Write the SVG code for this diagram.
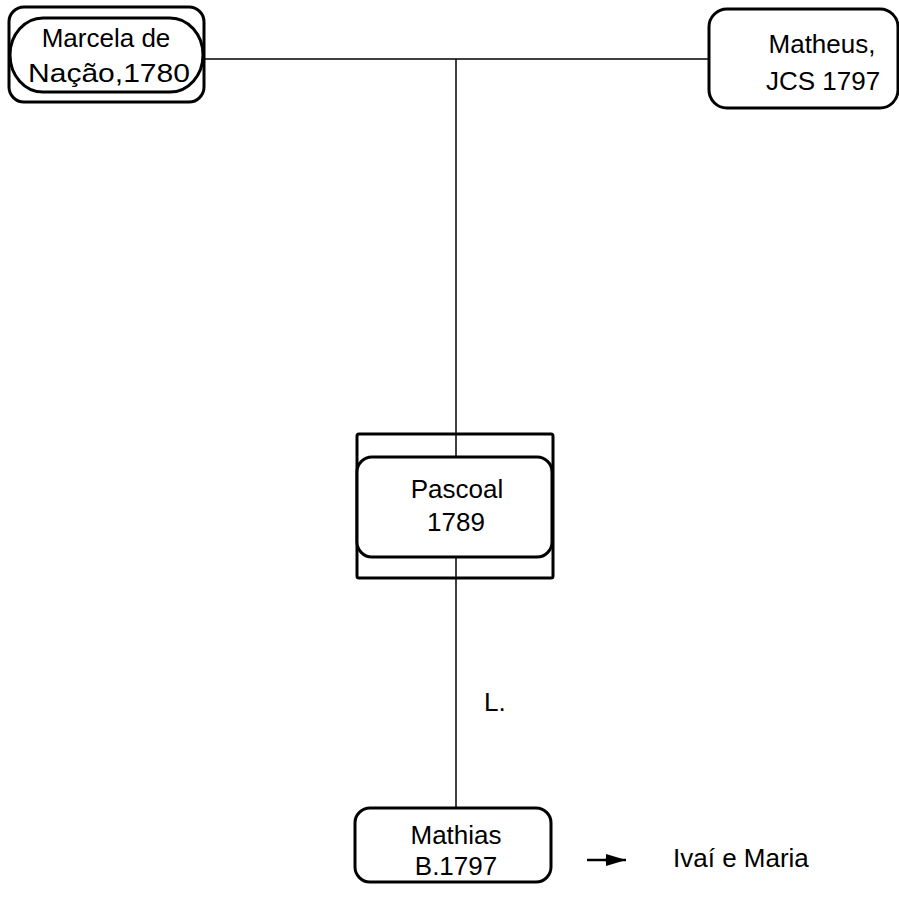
<svg xmlns="http://www.w3.org/2000/svg" width="899" height="908" viewBox="0 0 899 908">
  <defs>
    <style>
      .box { fill: #fff; stroke: #000; stroke-width: 3; }
      .frame { fill: none; stroke: #000; stroke-width: 3; }
      .link { fill: none; stroke: #000; stroke-width: 1.5; }
      .lbl { font-family: "Liberation Sans", Arial, sans-serif; font-size: 26px; fill: #000; text-anchor: middle; }
      .free { font-family: "Liberation Sans", Arial, sans-serif; font-size: 26px; fill: #000; }
    </style>
    <marker id="arrowhead" viewBox="0 0 20 12" refX="20" refY="6" markerWidth="20" markerHeight="12" markerUnits="userSpaceOnUse" orient="auto">
      <path d="M0,0 L20,6 L0,12 Z" fill="#000"/>
    </marker>
  </defs>
  <rect width="899" height="908" fill="#fff"/>

  <!-- connectors -->
  <g id="connectors">
    <line class="link" x1="204" y1="59" x2="709" y2="59"/>
    <line class="link" x1="456" y1="59" x2="456" y2="457"/>
    <line class="link" x1="456" y1="557" x2="456" y2="808"/>
    <line x1="587" y1="860" x2="610" y2="860" stroke="#000" stroke-width="2.5"/>
    <line x1="605" y1="860" x2="626" y2="860" stroke="#000" stroke-width="2.5" marker-end="url(#arrowhead)"/>
  </g>

  <!-- Marcela -->
  <g id="marcela">
    <rect class="box" x="9" y="7" width="195" height="95" rx="15"/>
    <rect class="frame" x="10" y="18" width="193" height="74" rx="33" ry="37"/>
    <text class="lbl" x="106" y="47">Marcela de</text>
    <text class="lbl" x="109" y="82" textLength="162" lengthAdjust="spacingAndGlyphs">Nação,1780</text>
  </g>

  <!-- Matheus -->
  <g id="matheus">
    <rect class="box" x="709" y="9" width="189" height="99" rx="18"/>
    <text class="lbl" x="822" y="53">Matheus,</text>
    <text class="lbl" x="823" y="90">JCS 1797</text>
  </g>

  <!-- Pascoal -->
  <g id="pascoal">
    <rect class="box" x="357" y="434" width="196" height="144" rx="2"/>
    <line class="link" x1="456" y1="434" x2="456" y2="457"/>
    <line class="link" x1="456" y1="557" x2="456" y2="578"/>
    <rect class="box" x="357" y="457" width="195" height="100" rx="15"/>
    <text class="lbl" x="457" y="498">Pascoal</text>
    <text class="lbl" x="456" y="531">1789</text>
  </g>

  <!-- Mathias -->
  <g id="mathias">
    <rect class="box" x="355" y="808" width="196" height="74" rx="15"/>
    <text class="lbl" x="456" y="844">Mathias</text>
    <text class="lbl" x="456" y="875">B.1797</text>
  </g>

  <!-- labels -->
  <g id="labels">
    <text class="free" x="484" y="711">L.</text>
    <text class="free" x="673" y="867">Ivaí e Maria</text>
  </g>
</svg>
